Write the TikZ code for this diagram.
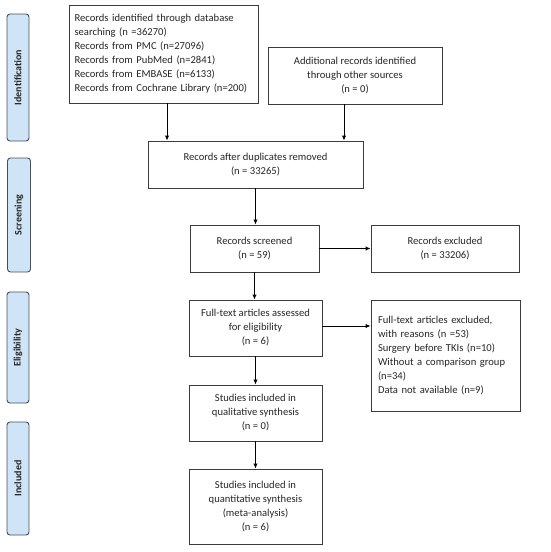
\documentclass[tikz,border=0pt]{standalone}
\usepackage{fontspec}
\setmainfont{Carlito}
\usetikzlibrary{arrows.meta,calc}
\definecolor{lblfill}{RGB}{207,228,247}
\definecolor{lbldraw}{RGB}{70,80,90}
\definecolor{boxdraw}{RGB}{60,60,60}
\tikzset{
  box/.style={draw=boxdraw, line width=0.9pt, fill=white, inner sep=0pt, font=\fontsize{10.6}{14}\selectfont, text=black!85},
  lbl/.style={draw=lbldraw, line width=0.9pt, fill=lblfill, rounded corners=3pt, rotate=90, inner sep=0pt, font=\fontsize{10}{12}\selectfont\bfseries, text=black!85},
  arr/.style={line width=1pt, -{Latex[length=5pt,width=4.5pt]}}
}
\begin{document}
\begin{tikzpicture}[x=1pt,y=-1pt]
\useasboundingbox (0,0) rectangle (550,552);
% phase labels
\node[lbl, minimum width=127, minimum height=22] (lid) at (18,77.5) {Identification};
\node[lbl, minimum width=114, minimum height=23] (lsc) at (19,215) {Screening};
\node[lbl, minimum width=111, minimum height=22] (lel) at (18,347.5) {Eligibility};
\node[lbl, minimum width=113, minimum height=22] (lin) at (18,478.5) {Included};
% boxes
\node[box, minimum width=189, minimum height=98, text width=178, align=left] (b1) at (163.5,54)
 {Records identified through database searching (n =36270)\\
  Records from PMC (n=27096)\\
  Records from PubMed (n=2841)\\
  Records from EMBASE (n=6133)\\
  Records from Cochrane Library (n=200)};
\node[box, minimum width=174, minimum height=57, align=center] (b2) at (355,75.5)
 {Additional records identified\\through other sources\\(n = 0)};
\node[box, minimum width=215, minimum height=47, align=center] (b3) at (255.5,164.5)
 {Records after duplicates removed\\(n = 33265)};
\node[box, minimum width=129, minimum height=47, align=center] (b4) at (254.5,248.5)
 {Records screened\\(n = 59)};
\node[box, minimum width=148, minimum height=47, align=center] (b5) at (445,248.5)
 {Records excluded\\(n = 33206)};
\node[box, minimum width=133, minimum height=56, align=center] (b6) at (255.5,328)
 {Full-text articles assessed\\for eligibility\\(n = 6)};
\node[box, minimum width=149, minimum height=111, text width=135, align=left] (b7) at (445.5,355.5)
 {Full-text articles excluded, with reasons (n =53)\\
  Surgery before TKIs (n=10)\\
  Without a comparison group (n=34)\\
  Data not available (n=9)\\[26pt]};
\node[box, minimum width=133, minimum height=56, align=center] (b8) at (255.5,413)
 {Studies included in\\qualitative synthesis\\(n = 0)};
\node[box, minimum width=133, minimum height=75, align=center] (b9) at (255.5,506.5)
 {Studies included in\\quantitative synthesis\\(meta-analysis)\\(n = 6)};
% connectors
\draw[arr] ([xshift=3.5pt]b1.south) -- ([xshift=3.5pt]b1.south |- b3.north);
\draw[arr] ([xshift=-11pt]b2.south) -- ([xshift=-11pt]b2.south |- b3.north);
\draw[arr] (b3.south) -- (b3.south |- b4.north);
\draw[arr] (b4.east) -- (b5.west);
\draw[arr] (b4.south) -- (b4.south |- b6.north);
\draw[arr] ([yshift=2pt]b6.east) -- ([yshift=2pt]b6.east -| b7.west);
\draw[arr] (b6.south) -- (b8.north);
\draw[arr] (b8.south) -- (b9.north);
\end{tikzpicture}
\end{document}
